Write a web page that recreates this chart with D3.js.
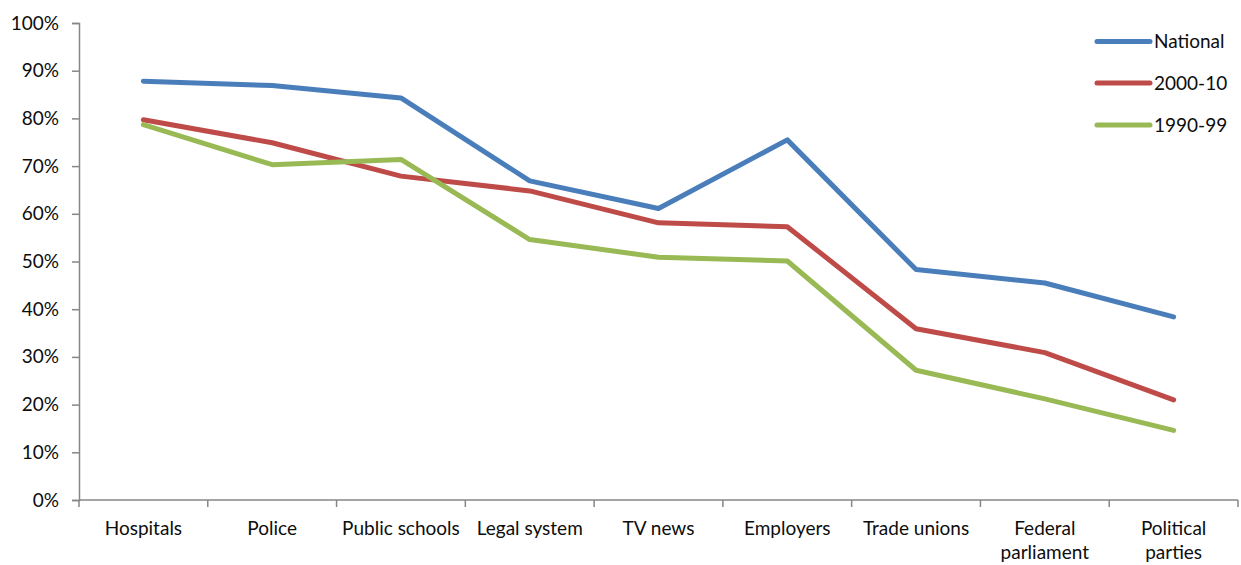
<!DOCTYPE html>
<html>
<head>
<meta charset="utf-8">
<script src="https://cdn.jsdelivr.net/npm/d3@7"></script>
<style>
  body { margin: 0; background: #fff; }
  svg { display: block; font-family: Lato, "Open Sans", sans-serif; }
</style>
</head>
<body>
<svg id="chart" width="1241" height="565"></svg>
<script>
// Institutions along the x axis (label lines split where they wrap)
const categories = ["Hospitals", "Police", "Public schools", "Legal system", "TV news",
  "Employers", "Trade unions", "Federal parliament", "Political parties"];
const categoryLines = [["Hospitals"], ["Police"], ["Public schools"], ["Legal system"], ["TV news"],
  ["Employers"], ["Trade unions"], ["Federal", "parliament"], ["Political", "parties"]];

// Share expressing confidence, percent
const national = [87.8, 86.9, 84.3, 66.9, 61.1, 75.5, 48.3, 45.5, 38.4];
const y2000s   = [79.7, 74.9, 67.9, 64.8, 58.1, 57.3, 35.9, 30.9, 21.0];
const y1990s   = [78.7, 70.3, 71.4, 54.6, 50.9, 50.1, 27.2, 21.2, 14.6];

const seriesNames = ["National", "2000-10", "1990-99"];
const yTicks = [0, 10, 20, 30, 40, 50, 60, 70, 80, 90, 100];

const colors = ["#4a7ebb", "#be4b48", "#98b954"];
const seriesValues = [national, y2000s, y1990s];

const svg = d3.select("#chart");
const plotLeft = 79, plotRight = 1238, plotTop = 23, plotBottom = 500;
const fontSize = 19;

const x = d3.scaleBand().domain(categories).range([plotLeft, plotRight]);
const y = d3.scaleLinear().domain([0, 100]).range([plotBottom, plotTop]);

const axisColor = "#868686";
const textColor = "#0d0d0d";

// Y axis
const yAxis = svg.append("g")
  .attr("transform", `translate(${plotLeft},0)`)
  .call(d3.axisLeft(y).tickValues(yTicks).tickSize(7).tickPadding(13)
    .tickFormat(d => d + "%"));
yAxis.select(".domain").attr("stroke", axisColor).attr("stroke-width", 1.5);
yAxis.selectAll(".tick line").attr("stroke", axisColor).attr("stroke-width", 1.5);
yAxis.selectAll(".tick text").attr("fill", textColor).attr("font-size", fontSize)
  .attr("font-family", "Lato, sans-serif");

// X axis: ticks on the band boundaries
const xAxis = svg.append("g").attr("transform", `translate(0,${plotBottom})`);
xAxis.append("line")
  .attr("x1", plotLeft).attr("x2", plotRight).attr("y1", 0).attr("y2", 0)
  .attr("stroke", axisColor).attr("stroke-width", 1.5);
const boundaries = categories.map(c => x(c)).concat([x(categories[categories.length - 1]) + x.bandwidth()]);
xAxis.selectAll("line.tk").data(boundaries).join("line")
  .attr("class", "tk")
  .attr("x1", d => d).attr("x2", d => d).attr("y1", 0).attr("y2", 7)
  .attr("stroke", axisColor).attr("stroke-width", 1.5);

const labels = xAxis.selectAll("text.cat").data(categories).join("text")
  .attr("class", "cat")
  .attr("text-anchor", "middle")
  .attr("fill", textColor)
  .attr("font-size", fontSize)
  .attr("transform", d => `translate(${x(d) + x.bandwidth() / 2},35)`);
labels.each(function(d, i) {
  const t = d3.select(this);
  categoryLines[i].forEach((ln, j) => {
    t.append("tspan").attr("x", 0).attr("y", j * 24).text(ln);
  });
});

// Lines
const line = d3.line()
  .x((d, i) => x(categories[i]) + x.bandwidth() / 2)
  .y(d => y(d));

svg.append("g").selectAll("path").data(seriesValues).join("path")
  .attr("d", line)
  .attr("fill", "none")
  .attr("stroke", (d, i) => colors[i])
  .attr("stroke-width", 5)
  .attr("stroke-linejoin", "round")
  .attr("stroke-linecap", "round");

// Legend
const legendY = [41.5, 83, 125];
const legend = svg.append("g").selectAll("g").data(seriesNames).join("g")
  .attr("transform", (d, i) => `translate(1097,${legendY[i]})`);
legend.append("line")
  .attr("x1", 0).attr("x2", 53).attr("y1", 0).attr("y2", 0)
  .attr("stroke", (d, i) => colors[i])
  .attr("stroke-width", 5)
  .attr("stroke-linecap", "round");
legend.append("text")
  .attr("x", 57).attr("y", 0).attr("dy", "0.35em")
  .attr("fill", textColor).attr("font-size", fontSize)
  .text(d => d);
</script>
</body>
</html>
